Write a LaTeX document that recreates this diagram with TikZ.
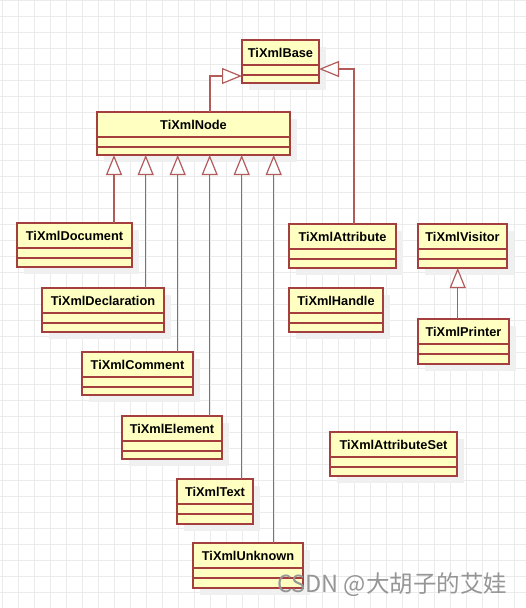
\documentclass[tikz,border=0pt]{standalone}
\usepackage{fontspec}
\setmainfont{Liberation Sans}
\newfontfamily\cjkfont{Noto Sans CJK SC}
\usetikzlibrary{arrows.meta,shadows,calc}
\definecolor{umlfill}{RGB}{255,255,194}
\definecolor{umlline}{RGB}{165,62,62}
\definecolor{gridgray}{RGB}{235,235,235}
\definecolor{shadowgray}{RGB}{240,240,240}
\definecolor{wmgray}{RGB}{150,150,150}
\tikzset{
  clsbox/.style={draw=umlline, fill=umlfill, line width=1.3pt, inner sep=0pt, outer sep=0pt,
    general shadow={fill=shadowgray, shadow xshift=7pt, shadow yshift=-7pt}},
  clsname/.style={font=\bfseries\fontsize{12.8}{14}\selectfont, inner sep=0pt, text=black},
  clsline/.style={draw=umlline, line width=1.3pt},
  inh/.style={draw=umlline!85, line width=1.5pt,
    -{Triangle[length=20pt,width=16pt,fill=white,line width=1.2pt]}},
  gridline/.style={draw=gridgray, line width=1pt},
}
\newcommand\umlclass[6]{%
  \node[clsbox, minimum width={(#4-#2)*1pt}, minimum height={(#5-#3)*1pt}] (#1) at ({(#2+#4)/2},{(#3+#5)/2}) {};
  \node[clsname] (#1-name) at ($(#1.north)+(0,12.5)$) {#6};
  \draw[clsline] ($(#1.north west)+(0,25)$) -- ($(#1.north east)+(0,25)$);
  \draw[clsline] ($(#1.north west)+(0,35)$) -- ($(#1.north east)+(0,35)$);
}
\begin{document}
\begin{tikzpicture}[x=1pt,y=-1pt]
\fill[white] (0,0) rectangle (526,608);
\useasboundingbox (0,0) rectangle (526,608);
\foreach \k in {0,...,32} {
  \draw[gridline] ({2.3+16*\k},0) -- ({2.3+16*\k},608);
}
\foreach \k in {0,...,38} {
  \draw[gridline] (0,{0.3+16*\k}) -- (526,{0.3+16*\k});
}
\umlclass{base}{242}{40}{319}{83}{TiXmlBase}
\umlclass{node}{97}{112}{290}{155}{TiXmlNode}
\umlclass{document}{17}{223}{132}{267}{TiXmlDocument}
\umlclass{declaration}{42}{288}{164}{332}{TiXmlDeclaration}
\umlclass{comment}{82}{352}{193}{395}{TiXmlComment}
\umlclass{element}{122}{416}{222}{459}{TiXmlElement}
\umlclass{text}{177}{479}{253}{524}{TiXmlText}
\umlclass{unknown}{193}{543}{303}{588}{TiXmlUnknown}
\umlclass{attribute}{289}{224}{396}{268}{TiXmlAttribute}
\umlclass{handle}{289}{288}{383}{332}{TiXmlHandle}
\umlclass{visitor}{418}{224}{507}{268}{TiXmlVisitor}
\umlclass{printer}{418}{319}{509}{364}{TiXmlPrinter}
\umlclass{attrset}{330}{432}{457}{476}{TiXmlAttributeSet}
% inheritance
\draw[inh] ($(node.north)+(16.3,0)$) |- ($(base.west)+(0,14.5)$);
\draw[inh] ($(attribute.north)+(11.5,0)$) |- ($(base.east)+(0,7.5)$);
\draw[inh] ($(document.north west)+(97,0)$) coordinate (c1) -- (c1 |- node.south);
\draw[inh] ($(declaration.north west)+(103.7,0)$) coordinate (c2) -- (c2 |- node.south);
\draw[inh] ($(comment.north west)+(95.7,0)$) coordinate (c3) -- (c3 |- node.south);
\draw[inh] ($(element.north west)+(87.7,0)$) coordinate (c4) -- (c4 |- node.south);
\draw[inh] ($(text.north west)+(64.7,0)$) coordinate (c5) -- (c5 |- node.south);
\draw[inh] ($(unknown.north west)+(80.7,0)$) coordinate (c6) -- (c6 |- node.south);
\draw[inh] ($(printer.north west)+(39.7,0)$) coordinate (c7) -- (c7 |- visitor.south);
% watermark
\node[font=\cjkfont\fontsize{23.5}{26}\selectfont, text=wmgray, anchor=west, inner sep=0pt] (wm) at (277,585) {CSDN @大胡子的艾娃};
\end{tikzpicture}
\end{document}
